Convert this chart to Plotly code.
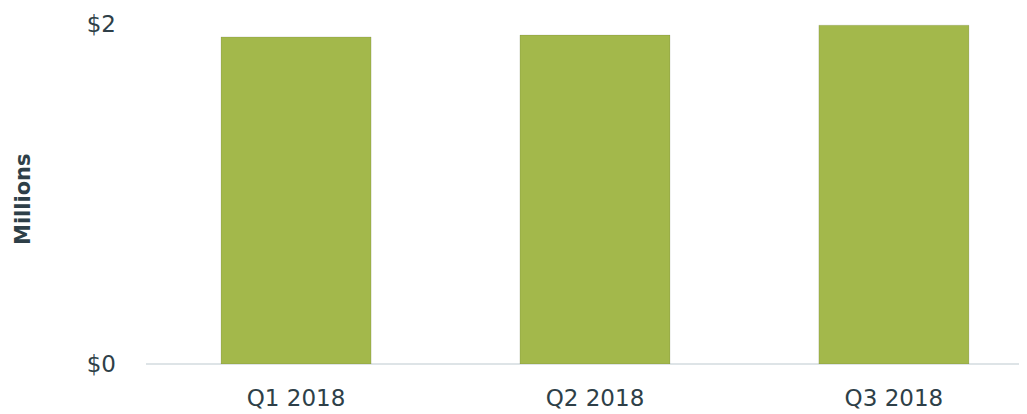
import plotly.graph_objects as go

categories = ["Q1 2018", "Q2 2018", "Q3 2018"]
values = [1.924, 1.935, 1.993]
tick_vals = [0, 2]
tick_text = ["$0", "$2"]

fig = go.Figure()
fig.add_trace(go.Bar(
    x=categories,
    y=values,
    width=0.502,
    marker=dict(color="#A3B84B", line=dict(color="rgba(0,0,0,0.10)", width=1)),
    hoverinfo="skip",
))

font_family = "DejaVu Sans, sans-serif"
text_color = "#2E3F48"

fig.update_layout(
    width=1027, height=414,
    margin=dict(l=138, r=0, t=16, b=58),
    paper_bgcolor="white", plot_bgcolor="white",
    showlegend=False,
    font=dict(family=font_family, size=23, color=text_color),
    xaxis=dict(
        range=[-0.502, 2.472],
        showgrid=False, showline=False, zeroline=False,
        ticks="", ticklabelstandoff=18, automargin=False,
        tickfont=dict(size=23, color=text_color),
    ),
    yaxis=dict(
        range=[0, 2],
        tickvals=tick_vals, ticktext=tick_text,
        showgrid=True, gridcolor="#DEE4E7", gridwidth=2,
        zeroline=True, zerolinecolor="#DEE4E7", zerolinewidth=2,
        showline=False, ticks="", ticklabelstandoff=29, automargin=False,
        tickfont=dict(size=23, color=text_color),
    ),
    annotations=[dict(
        text="<b>Millions</b>", textangle=-90,
        xref="paper", yref="paper", x=0, y=0.5,
        xanchor="center", yanchor="middle", xshift=-123, yshift=-5, showarrow=False,
        font=dict(family=font_family, size=21, color=text_color),
    )],
)

fig.write_html("out.html")
